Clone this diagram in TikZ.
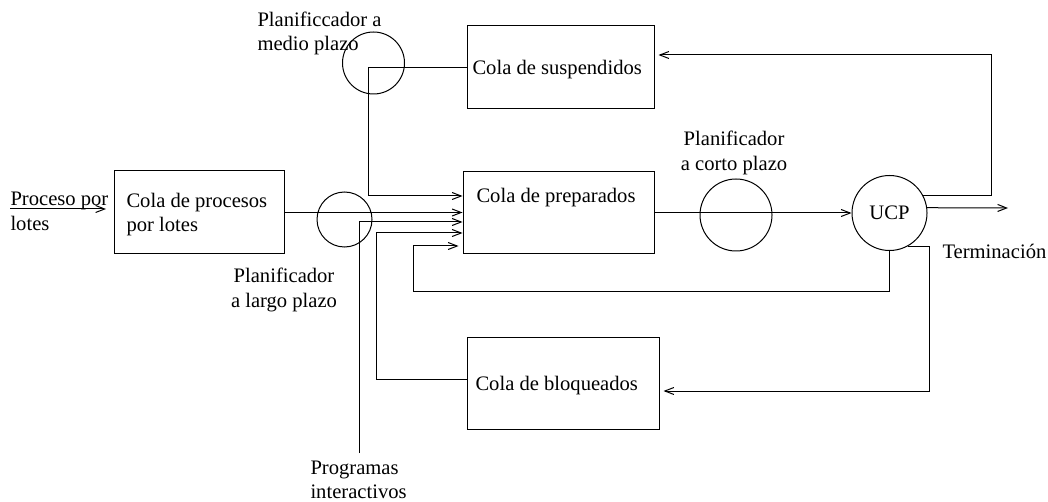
\documentclass[tikz,border=0pt]{standalone}
\usepackage{fontspec}
\setmainfont{Liberation Serif}
\usetikzlibrary{arrows.meta}
\begin{document}
\begin{tikzpicture}[x=1pt,y=-1pt, line width=1pt,
  arr/.style={-{Straight Barb[length=9pt,width=7pt]}},
  box/.style={draw, rectangle, inner sep=0pt},
  ring/.style={draw, circle, inner sep=0pt},
  lbl/.style={inner sep=0pt, font=\fontsize{20.6}{24.5}\selectfont},
]
\useasboundingbox (0,0) rectangle (1048,502);

% boxes
\node[box, minimum width=170pt, minimum height=83pt] (lotes) at (199,212.5) {};
\node[box, minimum width=187pt, minimum height=83pt] (susp) at (560.5,67.5) {};
\node[box, minimum width=191pt, minimum height=82pt] (prep) at (558.5,213) {};
\node[box, minimum width=192pt, minimum height=92pt] (bloq) at (563,383) {};

% circles
\node[ring, minimum size=62pt] (medio) at (373.5,63) {};
\node[ring, minimum size=55pt] (largo) at (344.5,219.5) {};
\node[ring, minimum size=72pt] (corto) at (736,215) {};
\node[ring, minimum size=75pt, lbl] (ucp) at (889.5,213) {UCP};

% texts
\node[lbl, anchor=west, align=left] (tin) at (10,211.5) {Proceso por\\lotes};
\node[lbl, anchor=west, align=left] (tlotes) at (126,214.5) {Cola de procesos\\por lotes};
\node[lbl, anchor=west] (tsusp) at (472,70) {Cola de suspendidos};
\node[lbl, anchor=west] (tprep) at (476,198) {Cola de preparados};
\node[lbl, anchor=west] (tbloq) at (475,386) {Cola de bloqueados};
\node[lbl, anchor=west, align=left] (tmedio) at (257,33.5) {Planificcador a\\medio plazo};
\node[lbl, align=center] (tlargo) at (284,290) {Planificador\\a largo plazo};
\node[lbl, align=center] (tcorto) at (734,153) {Planificador\\a corto plazo};
\node[lbl, anchor=west] (tterm) at (942,251) {Terminación};
\node[lbl, anchor=west, align=left] (tprog) at (310,480) {Programas\\interactivos};

% coordinates
\coordinate (pin) at (10,209);
\coordinate (pout) at (106,209);
\coordinate (c1) at (368,196);
\coordinate (prog) at (359,453);
\coordinate (c3) at (359,222);
\coordinate (c4) at (376,233);
\coordinate (c5) at (413,291);
\coordinate (c5b) at (413,246);
\coordinate (c7) at (991,196);
\coordinate (term) at (1008,208);
\coordinate (c9) at (929,247);

% connectors
\draw[arr] (pin) -- (pout);
\draw[arr] (susp.west) -| (c1) -- (c1 -| prep.west);
\draw[arr] (lotes.east) -- (lotes.east -| prep.west);
\draw[arr] (prog) -- (c3) -- (c3 -| prep.west);
\draw[arr] ([yshift=4pt]bloq.west) -| (c4) -- (c4 -| prep.west);
\draw[arr] (ucp.south) |- (c5) -- (c5b) -- ([xshift=-4pt]c5b -| prep.west);
\draw[arr] (prep.east) -- (ucp.west);
\draw[arr, shorten >=4pt] (ucp.27) -- (ucp.27 -| c7) |- ([yshift=12.5pt]susp.east);
\draw[arr] (ucp.8) -- (term);
\draw[arr, shorten >=4pt] (ucp.-61) -- (ucp.-61 -| c9) |- ([yshift=-8pt]bloq.east);
\end{tikzpicture}
\end{document}
